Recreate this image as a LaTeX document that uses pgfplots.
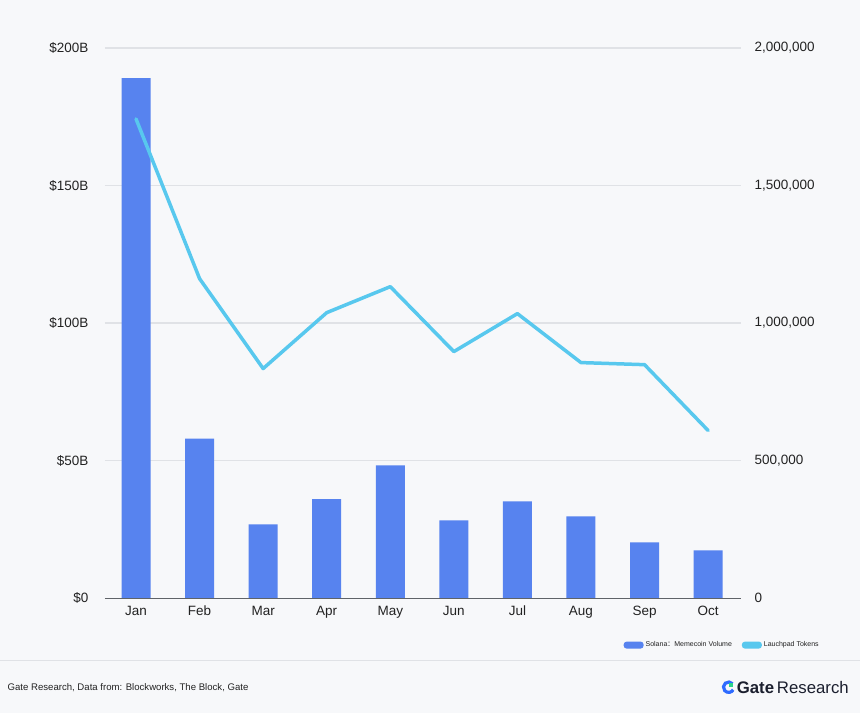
\documentclass[border=0pt]{standalone}
\usepackage{pgfplots}
\pgfplotsset{compat=1.18}
\usepackage{fontspec}
\setmainfont{Liberation Sans}
\newfontfamily\cjk{Noto Sans CJK SC}
\definecolor{bg}{HTML}{F7F8FA}
\definecolor{barblue}{HTML}{5783EF}
\definecolor{linecyan}{HTML}{58C8EE}
\definecolor{gridgray}{HTML}{E0E2E6}
\definecolor{axisgray}{HTML}{5F6368}
\definecolor{txt}{HTML}{222222}
\definecolor{navy}{HTML}{1B1F2E}
\definecolor{gateblue}{HTML}{2F6BFF}
\definecolor{gategreen}{HTML}{2BD48B}
\begin{document}
\begin{tikzpicture}[x=1pt,y=1pt]
\fill[bg] (0,0) rectangle (860,714);
\draw[gridgray, line width=1pt] (0,52.5) -- (860,52.5);
% left axis with bars
\begin{axis}[at={(104.5pt,115pt)}, anchor=south west, scale only axis,
  width=637pt, height=551pt,
  xmin=-0.49, xmax=9.52, ymin=0, ymax=200,
  axis line style={draw=none},
  major tick length=0pt,
  xtick=\empty,
  ytick={0,50,100,150,200},
  yticklabels={\$0,\$50B,\$100B,\$150B,\$200B},
  yticklabel style={font=\fontsize{13.5}{15}\selectfont, text=txt, xshift=-13pt},
  ymajorgrids, grid style={draw=gridgray, line width=1.3pt},
  clip=false]
\addplot[ybar, bar width=29pt, fill=barblue, draw=none] coordinates {
(0,189) (1,58) (2,26.9) (3,36) (4,48.3) (5,28.3) (6,35.2) (7,29.8) (8,20.3) (9,17.4)};
\end{axis}
% right axis with line
\begin{axis}[at={(104.5pt,115pt)}, anchor=south west, scale only axis,
  width=637pt, height=551pt,
  xmin=-0.49, xmax=9.52, ymin=0, ymax=2000000,
  axis x line*=bottom, axis y line*=right,
  x axis line style={draw=axisgray, line width=1.5pt, -},
  y axis line style={draw=none},
  major tick length=0pt,
  scaled ticks=false,
  xtick={0,...,9},
  xticklabels={Jan,Feb,Mar,Apr,May,Jun,Jul,Aug,Sep,Oct},
  xticklabel style={font=\fontsize{13.5}{15}\selectfont, text=txt, anchor=base, yshift=-17.5pt},
  ytick={0,500000,1000000,1500000,2000000},
  yticklabels={0,{500,000},{1,000,000},{1,500,000},{2,000,000}},
  yticklabel style={font=\fontsize{13.5}{15}\selectfont, text=txt, xshift=10pt},
  legend style={at={(1.13,-0.085)}, anchor=east, draw=none, fill=none,
    font=\fontsize{7}{8}\selectfont, text=txt, legend columns=2,
    /tikz/every even column/.append style={column sep=8pt}},
  legend image code/.code={\fill[#1, draw=none, rounded corners=3pt] (0pt,-3.5pt) rectangle (20pt,3.5pt);},
  clip=false]
\addlegendimage{fill=barblue}
\addlegendentry{Solana{\cjk ：}Memecoin Volume}
\addplot[linecyan, line width=3.5pt, line join=round, line cap=round, forget plot] coordinates {
(0,1742000) (1,1161500) (2,834800) (3,1038000) (4,1132500) (5,896500) (6,1034500) (7,856600) (8,849000) (9,609800)};
\addlegendimage{fill=linecyan}
\addlegendentry{Lauchpad Tokens}
\end{axis}
% footer
\node[anchor=west, font=\fontsize{9.6}{11}\selectfont, text=txt, inner sep=0] at (7,26) {Gate Research, Data from: Blockworks, The Block, Gate};
\draw[gateblue, line width=3.2pt] (729,26) ++(40:5.2) arc (40:330:5.2);
\fill[gategreen] (729.5,26.5) rectangle (733.5,30.5);
\node[anchor=west, inner sep=0, font=\fontsize{16.8}{18}\selectfont, text=navy] at (737,26) {\textbf{Gate}\,Research};
\end{tikzpicture}
\end{document}
